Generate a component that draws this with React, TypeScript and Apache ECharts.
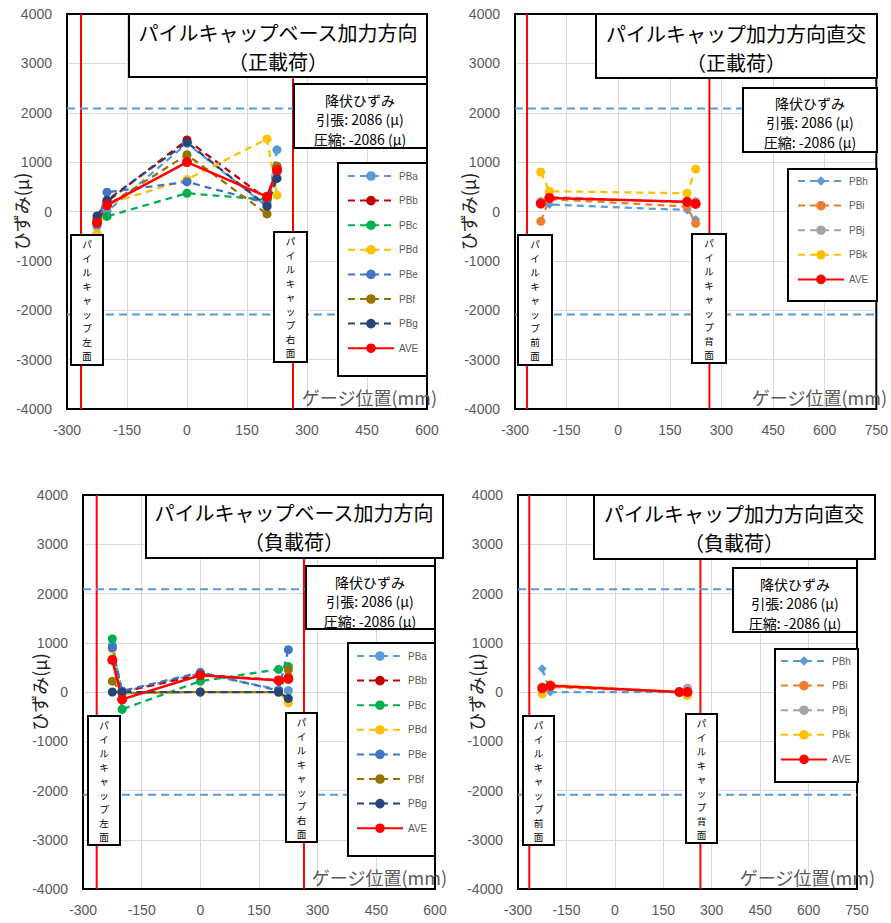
import React, { useEffect, useRef } from 'react';
import * as echarts from 'echarts';

// gauge positions (mm)
const xBase = [-225, -200, 0, 200, 225];
const xOrtho = [-225, -200, 200, 225];
const capFaces = [-265, 265];
const yieldStrain = 2086;

// top-left: base direction, positive load
const posBaseNames = ['PBa', 'PBb', 'PBc', 'PBd', 'PBe', 'PBf', 'PBg', 'AVE'];
const posPBa = [-300, 0, 1380, 100, 1250];
const posPBb = [-150, 200, 1450, 250, 900];
const posPBc = [-200, -100, 370, 240, 850];
const posPBd = [-450, 150, 650, 1470, 330];
const posPBe = [-250, 390, 600, 170, 800];
const posPBf = [-200, 120, 1150, -50, 920];
const posPBg = [-90, 230, 1400, 110, 670];
const posAVEb = [-230, 130, 1000, 300, 840];

// top-right: orthogonal, positive load
const orthoNames = ['PBh', 'PBi', 'PBj', 'PBk', 'AVE'];
const posPBh = [150, 140, 30, -160];
const posPBi = [-200, 250, 100, -240];
const posPBj = [200, 300, 180, 200];
const posPBk = [800, 410, 370, 860];
const posAVEo = [160, 275, 195, 155];

// bottom-left: base direction, negative load
const negPBa = [950, 0, 380, 50, 30];
const negPBb = [660, 0, 350, 240, 300];
const negPBc = [1080, -350, 220, 460, 520];
const negPBd = [870, -30, 0, 0, -220];
const negPBe = [900, 20, 400, 30, 860];
const negPBf = [220, -20, 0, 0, 450];
const negPBg = [0, 0, 0, 0, -130];
const negAVEb = [650, -150, 340, 235, 265];

// bottom-right: orthogonal, negative load
const negPBh = [470, 0, 0, 30];
const negPBi = [50, 100, 0, 0];
const negPBj = [100, 120, 0, 80];
const negPBk = [-40, 150, 0, -70];
const negAVEo = [80, 125, 0, 0];

const colors: Record<string, string> = {
  PBa: '#5B9BD5', PBb: '#C00000', PBc: '#00B050', PBd: '#FFC000', PBe: '#4472C4',
  PBf: '#997300', PBg: '#264478', AVE: '#FF0000',
  PBh: '#5B9BD5', PBi: '#ED7D31', PBj: '#A5A5A5', PBk: '#FFC000',
};

const JP = "'Noto Sans CJK JP', 'Noto Sans', sans-serif";
const NUM = "'Liberation Sans', Arial, sans-serif";

const grids = [
  { left: 67, top: 14, width: 360, height: 395 },
  { left: 515, top: 14, width: 363, height: 395 },
  { left: 83, top: 495, width: 352, height: 394 },
  { left: 518, top: 495, width: 339, height: 394 },
];
const xMaxes = [600, 750, 600, 750];
const yNameGaps = [37, 38, 35, 33];

function seriesFor(idx: number, xs: number[], names: string[], values: number[][]) {
  const out: any[] = [];
  capFaces.forEach((f) => {
    out.push({
      type: 'line', name: 'face', xAxisIndex: idx, yAxisIndex: idx, silent: true,
      data: [[f, -4000], [f, 4000]], symbol: 'none',
      lineStyle: { color: '#FF0000', width: 2 },
    });
  });
  [yieldStrain, -yieldStrain].forEach((v) => {
    out.push({
      type: 'line', name: 'yield', xAxisIndex: idx, yAxisIndex: idx, silent: true,
      data: [[-300, v], [xMaxes[idx], v]], symbol: 'none',
      lineStyle: { color: '#5B9BD5', width: 2, type: [8, 5] },
    });
  });
  names.forEach((n, k) => {
    const isAve = n === 'AVE';
    out.push({
      type: 'line', name: n, xAxisIndex: idx, yAxisIndex: idx,
      data: xs.map((x, j) => [x, values[k][j]]),
      symbol: n === 'PBh' ? 'diamond' : 'circle',
      symbolSize: isAve ? 10 : 9,
      lineStyle: { color: colors[n], width: isAve ? 2.5 : 2.25, type: isAve ? 'solid' : [7, 5] },
      itemStyle: { color: colors[n] },
      emphasis: { disabled: true },
    });
  });
  return out;
}

function box(x1: number, y1: number, x2: number, y2: number) {
  return {
    type: 'rect', z: 100,
    shape: { x: x1, y: y1, width: x2 - x1, height: y2 - y1 },
    style: { fill: '#fff', stroke: '#000', lineWidth: 2 },
  };
}
function txt(x: number, y: number, text: string, fontSize: number, lineHeight: number, fill = '#000', align = 'center') {
  return {
    type: 'text', z: 101, x, y,
    style: { text, fontSize, lineHeight, fontFamily: JP, fill, align, verticalAlign: 'middle' },
  };
}

export default function App() {
  const ref = useRef<HTMLDivElement>(null);
  useEffect(() => {
    if (!ref.current) return;
    const chart = echarts.init(ref.current, null, { renderer: 'svg' });
    const series = [
      ...seriesFor(0, xBase, posBaseNames, [posPBa, posPBb, posPBc, posPBd, posPBe, posPBf, posPBg, posAVEb]),
      ...seriesFor(1, xOrtho, orthoNames, [posPBh, posPBi, posPBj, posPBk, posAVEo]),
      ...seriesFor(2, xBase, posBaseNames, [negPBa, negPBb, negPBc, negPBd, negPBe, negPBf, negPBg, negAVEb]),
      ...seriesFor(3, xOrtho, orthoNames, [negPBh, negPBi, negPBj, negPBk, negAVEo]),
    ];
    const legendPos = [
      { left: 347, top: 171, names: posBaseNames },
      { left: 797, top: 176, names: orthoNames },
      { left: 356, top: 651, names: posBaseNames },
      { left: 780, top: 656, names: orthoNames },
    ];
    const titles = [
      { box: [129, 14, 427, 77], cx: 278, cy: 47, text: 'パイルキャップベース加力方向\n（正載荷）' },
      { box: [596, 14, 877, 78], cx: 736, cy: 48, text: 'パイルキャップ加力方向直交\n（正載荷）' },
      { box: [146, 495, 443, 558], cx: 294, cy: 527, text: 'パイルキャップベース加力方向\n（負載荷）' },
      { box: [594, 495, 875, 559], cx: 734, cy: 528, text: 'パイルキャップ加力方向直交\n（負載荷）' },
    ];
    const yieldBoxes = [
      { box: [294, 84, 427, 148], cx: 360, cy: 119 },
      { box: [743, 88, 877, 152], cx: 810, cy: 122 },
      { box: [306, 566, 435, 629], cx: 370, cy: 601 },
      { box: [733, 568, 857, 632], cx: 795, cy: 603 },
    ];
    const legendBoxes = [
      [338, 163, 427, 376],
      [788, 169, 877, 301],
      [348, 643, 435, 856],
      [775, 649, 858, 782],
    ];
    const faceBoxes = [
      { box: [71, 235, 103, 365], text: 'パイルキャップ左面' },
      { box: [274, 232, 307, 362], text: 'パイルキャップ右面' },
      { box: [518, 235, 552, 365], text: 'パイルキャップ前面' },
      { box: [692, 234, 726, 363], text: 'パイルキャップ背面' },
      { box: [88, 716, 120, 845], text: 'パイルキャップ左面' },
      { box: [286, 713, 317, 842], text: 'パイルキャップ右面' },
      { box: [523, 716, 554, 845], text: 'パイルキャップ前面' },
      { box: [686, 714, 717, 843], text: 'パイルキャップ背面' },
    ];
    const xNames = [
      { x: 437, y: 397 }, { x: 887, y: 397 }, { x: 447, y: 877 }, { x: 875, y: 877 },
    ];
    const graphic: any[] = [];
    titles.forEach((t) => {
      graphic.push(box(t.box[0], t.box[1], t.box[2], t.box[3]));
      graphic.push(txt(t.cx, t.cy, t.text, 20, 29));
    });
    yieldBoxes.forEach((t) => {
      graphic.push(box(t.box[0], t.box[1], t.box[2], t.box[3]));
      graphic.push(txt(t.cx, t.cy, '降伏ひずみ\n引張: 2086 (μ)\n圧縮: -2086 (μ)', 14, 19.5));
    });
    legendBoxes.forEach((b) => graphic.push(box(b[0], b[1], b[2], b[3])));
    const step = 14;
    faceBoxes.forEach((f) => {
      graphic.push(box(f.box[0], f.box[1], f.box[2], f.box[3]));
      const chars = f.text.split('');
      const cx = (f.box[0] + f.box[2]) / 2;
      const cy = (f.box[1] + f.box[3]) / 2;
      chars.forEach((c, i) => {
        graphic.push(txt(cx, cy + (i - (chars.length - 1) / 2) * step, c, 9.6, 9.6));
      });
    });
    xNames.forEach((p) => graphic.push({ ...txt(p.x, p.y, 'ゲージ位置(mm)', 18, 20, '#595959', 'right'), z: 90 }));

    chart.setOption({
      animation: false,
      backgroundColor: '#fff',
      grid: grids.map((g) => ({ ...g, show: true, borderColor: '#000', borderWidth: 2, backgroundColor: 'transparent', z: 3 })),
      xAxis: grids.map((_, i) => ({
        type: 'value', gridIndex: i, min: -300, max: xMaxes[i], interval: 150,
        axisLine: { show: false }, axisTick: { show: false },
        splitLine: { show: true, lineStyle: { color: '#D9D9D9', width: 1 } },
        axisLabel: { fontSize: 14, color: '#595959', fontFamily: NUM, margin: 14, formatter: (v: number) => String(v) },
      })),
      yAxis: grids.map((_, i) => ({
        type: 'value', gridIndex: i, min: -4000, max: 4000, interval: 1000,
        axisLine: { show: false }, axisTick: { show: false },
        splitLine: { show: true, lineStyle: { color: '#D9D9D9', width: 1 } },
        axisLabel: { fontSize: 14, color: '#595959', fontFamily: NUM, margin: 15, formatter: (v: number) => String(v) },
        name: 'ひずみ(μ)', nameLocation: 'middle', nameRotate: 90, nameGap: yNameGaps[i],
        nameMoveOverlap: false,
        nameTextStyle: { fontSize: 18, color: '#222', fontFamily: JP },
      })),
      legend: legendPos.map((l) => ({
        data: l.names, orient: 'vertical', left: l.left, top: l.top, padding: 0,
        itemWidth: 46, itemHeight: 12, itemGap: 14.6, z: 110, selectedMode: false,
        textStyle: { fontSize: 10, color: '#595959', fontFamily: NUM },
      })),
      series,
      graphic,
    });
    return () => chart.dispose();
  }, []);
  return <div ref={ref} style={{ position: 'absolute', left: 0, top: 0, width: 891, height: 923, background: '#fff' }} />;
}
